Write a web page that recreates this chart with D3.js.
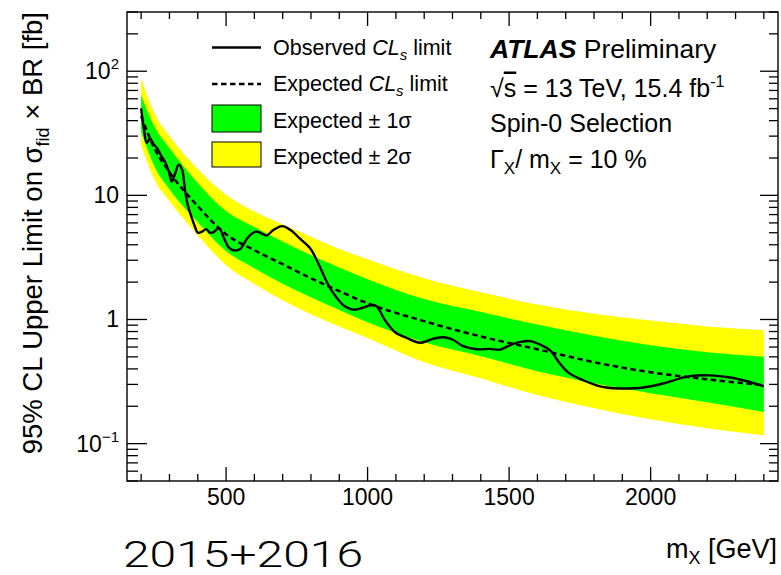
<!DOCTYPE html>
<html>
<head>
<meta charset="utf-8">
<script src="https://cdn.jsdelivr.net/npm/d3@7"></script>
<style>
  html, body { margin: 0; padding: 0; background: #fff; }
  svg text { font-family: "Liberation Sans", Arial, Helvetica, sans-serif; fill: #000; }
</style>
</head>
<body>
<svg id="chart" width="781" height="575"></svg>
<script>
// ---------------- data ----------------
const masses   = [200, 250, 300, 400, 500, 600, 700, 800, 900, 1000, 1200, 1400, 1600, 1800, 2000, 2200, 2400];
const expected = [43.5, 23.2, 15.4, 8.2, 4.87, 3.62, 2.79, 2.15, 1.69, 1.35, 0.97, 0.73, 0.576, 0.453, 0.376, 0.33, 0.295];
const plus1    = [64.4, 34.9, 24.1, 12.6, 7.47, 5.55, 4.24, 3.3, 2.62, 2.11, 1.46, 1.15, 0.91, 0.74, 0.62, 0.545, 0.50];
const minus1   = [32.6, 16.6, 11.2, 6.09, 3.56, 2.59, 1.94, 1.51, 1.19, 0.95, 0.656, 0.506, 0.383, 0.306, 0.255, 0.215, 0.18];
const plus2    = [87.9, 44.4, 30.1, 16.3, 10.1, 7.4, 5.82, 4.65, 3.69, 3.06, 2.15, 1.66, 1.32, 1.11, 0.98, 0.88, 0.82];
const minus2   = [25.5, 13.0, 9.0, 4.78, 2.74, 1.93, 1.43, 1.10, 0.88, 0.71, 0.453, 0.336, 0.246, 0.193, 0.157, 0.133, 0.117];

const obsMass = [200, 210, 220, 232, 243, 257, 270, 285, 297, 308, 320, 333, 345, 355, 365, 375, 390, 400, 415, 430, 443, 456, 475, 493, 510, 530, 550, 578, 605, 625, 643, 667, 698, 728, 760, 797, 826, 850, 867, 891, 915, 950, 985, 1014, 1032, 1061, 1097, 1138, 1185, 1232, 1270, 1300, 1338, 1385, 1432, 1468, 1503, 1540, 1574, 1608, 1644, 1680, 1712, 1762, 1809, 1850, 1892, 1940, 1974, 2045, 2104, 2139, 2210, 2281, 2340, 2400];
const obsLimit = [50.3, 34, 26.5, 28.8, 26, 23.9, 21, 18.5, 15.8, 12.9, 15, 17.7, 16, 11, 8.3, 7, 5.6, 5.0, 5.1, 5.35, 5.0, 5.05, 5.45, 4.5, 3.8, 3.6, 3.7, 4.6, 5.1, 4.95, 4.75, 5.25, 5.65, 5.25, 4.5, 3.75, 2.83, 2.14, 1.8, 1.5, 1.3, 1.2, 1.25, 1.31, 1.28, 0.99, 0.79, 0.71, 0.65, 0.70, 0.72, 0.69, 0.61, 0.576, 0.58, 0.572, 0.62, 0.66, 0.67, 0.63, 0.566, 0.44, 0.37, 0.324, 0.295, 0.282, 0.278, 0.279, 0.283, 0.305, 0.336, 0.35, 0.355, 0.341, 0.318, 0.29];

const xMajorTicks = [500, 1000, 1500, 2000];
const yMajorTicks = [0.1, 1, 10, 100];
const yTickLabels = [["10", "\u22121"], ["1", null], ["10", null], ["10", "2"]];

// ---------------- layout ----------------
const svg = d3.select("#chart");
const L = 127, R = 778, T = 12, B = 481;
const x = d3.scaleLinear().domain([150, 2450]).range([L, R]);
const y = d3.scaleLog().domain([0.05, 300]).range([B, T]);

svg.append("defs").append("clipPath").attr("id", "frame")
  .append("rect").attr("x", L).attr("y", T).attr("width", R - L).attr("height", B - T);

const plot = svg.append("g").attr("clip-path", "url(#frame)");

const band = (lo, hi) => d3.area()
  .x((d, i) => x(masses[i]))
  .y0((d, i) => y(lo[i]))
  .y1((d, i) => y(hi[i]))
  .curve(d3.curveMonotoneX)(masses);

plot.append("path").attr("d", band(minus2, plus2)).attr("fill", "#ffff00");
plot.append("path").attr("d", band(minus1, plus1)).attr("fill", "#00ff00");

plot.append("path")
  .attr("d", d3.line().x((d, i) => x(masses[i])).y((d, i) => y(expected[i])).curve(d3.curveMonotoneX)(masses))
  .attr("fill", "none").attr("stroke", "#000").attr("stroke-width", 2.5).attr("stroke-dasharray", "5.5,3.5");

plot.append("path")
  .attr("d", d3.line().x((d, i) => x(obsMass[i])).y((d, i) => y(obsLimit[i])).curve(d3.curveCatmullRom.alpha(0.5))(obsMass))
  .attr("fill", "none").attr("stroke", "#000").attr("stroke-width", 2.4);

// ---------------- frame & ticks ----------------
svg.append("rect").attr("x", L).attr("y", T).attr("width", R - L).attr("height", B - T)
  .attr("fill", "none").attr("stroke", "#000").attr("stroke-width", 1.4);

const axes = svg.append("g").attr("stroke", "#000").attr("stroke-width", 1.3);
const xMinor = d3.range(200, 2401, 100);
xMinor.forEach(v => {
  const major = xMajorTicks.includes(v);
  const len = major ? 14 : 7;
  axes.append("line").attr("x1", x(v)).attr("x2", x(v)).attr("y1", B).attr("y2", B - len);
  axes.append("line").attr("x1", x(v)).attr("x2", x(v)).attr("y1", T).attr("y2", T + len);
});
const yTicksAll = [];
[0.01, 0.1, 1, 10, 100].forEach(dec => {
  for (let k = 1; k <= 9; k++) {
    const v = dec * k;
    if (v >= 0.05 && v <= 300) yTicksAll.push({ v, major: k === 1 });
  }
});
yTicksAll.forEach(t => {
  const lenL = t.major ? 20 : 11;
  const lenR = t.major ? 18 : 9;
  axes.append("line").attr("x1", L).attr("x2", L + lenL).attr("y1", y(t.v)).attr("y2", y(t.v));
  axes.append("line").attr("x1", R).attr("x2", R - lenR).attr("y1", y(t.v)).attr("y2", y(t.v));
});

// x tick labels
xMajorTicks.forEach(v => {
  svg.append("text").attr("x", x(v)).attr("y", 505).attr("text-anchor", "middle")
    .attr("font-size", 23).text(v);
});
// y tick labels
yMajorTicks.forEach((v, i) => {
  const [base, sup] = yTickLabels[i];
  const t = svg.append("text").attr("x", 119).attr("y", y(v) + 8).attr("text-anchor", "end").attr("font-size", 23);
  t.append("tspan").text(base);
  if (sup) t.append("tspan").attr("font-size", 15).attr("dy", -10).text(sup);
});

// axis titles
const yt = svg.append("text").attr("transform", `translate(42,${T}) rotate(-90)`)
  .attr("text-anchor", "end").attr("font-size", 27.5);
yt.append("tspan").text("95% CL Upper Limit on \u03c3");
yt.append("tspan").attr("font-size", 18).attr("dy", 7).text("fid");
yt.append("tspan").attr("dy", -7).text(" \u00d7 BR [fb]");

const xt = svg.append("text").attr("x", 777).attr("y", 558).attr("text-anchor", "end").attr("font-size", 27);
xt.append("tspan").text("m");
xt.append("tspan").attr("font-size", 18).attr("dy", 6).text("X");
xt.append("tspan").attr("dy", -6).text(" [GeV]");

svg.append("text").attr("x", 123).attr("y", 567).attr("font-size", 36)
  .style("font-family", "Roboto, 'Liberation Sans', sans-serif").attr("font-weight", 300)
  .attr("textLength", 240).attr("lengthAdjust", "spacingAndGlyphs").text("2015+2016");

// ---------------- legend ----------------
const lg = svg.append("g");
const lx0 = 212, lx1 = 261, ltx = 273;
lg.append("line").attr("x1", lx0).attr("x2", lx1).attr("y1", 47.5).attr("y2", 47.5)
  .attr("stroke", "#000").attr("stroke-width", 2.4);
lg.append("line").attr("x1", lx0).attr("x2", lx1).attr("y1", 84).attr("y2", 84)
  .attr("stroke", "#000").attr("stroke-width", 2.5).attr("stroke-dasharray", "5.5,3.5");
lg.append("rect").attr("x", lx0).attr("y", 105).attr("width", lx1 - lx0).attr("height", 27)
  .attr("fill", "#00ff00").attr("stroke", "#000").attr("stroke-width", 1);
lg.append("rect").attr("x", lx0).attr("y", 142).attr("width", lx1 - lx0).attr("height", 25)
  .attr("fill", "#ffff00").attr("stroke", "#000").attr("stroke-width", 1);

function clsEntry(label, yb) {
  const t = lg.append("text").attr("x", ltx).attr("y", yb).attr("font-size", 21.5);
  t.append("tspan").text(label + " ");
  t.append("tspan").attr("font-style", "italic").text("CL");
  t.append("tspan").attr("font-style", "italic").attr("font-size", 15).attr("dy", 5).text("s");
  t.append("tspan").attr("dy", -5).text(" limit");
}
clsEntry("Observed", 55);
clsEntry("Expected", 91);
lg.append("text").attr("x", ltx).attr("y", 127.5).attr("font-size", 21.5).text("Expected \u00b1 1\u03c3");
lg.append("text").attr("x", ltx).attr("y", 164).attr("font-size", 21.5).text("Expected \u00b1 2\u03c3");

// ---------------- ATLAS labels ----------------
const ax = 490;
const a1 = svg.append("text").attr("x", ax).attr("y", 58.3).attr("font-size", 26.5);
a1.append("tspan").attr("font-weight", "bold").attr("font-style", "italic").text("ATLAS");
a1.append("tspan").text(" Preliminary");

const a2 = svg.append("text").attr("x", ax).attr("y", 96.5).attr("font-size", 25);
a2.append("tspan").text("\u221a");
a2.append("tspan").attr("text-decoration", "overline").text("s");
a2.append("tspan").text(" = 13 TeV, 15.4 fb");
a2.append("tspan").attr("font-size", 16).attr("dy", -10).text("-1");

svg.append("text").attr("x", ax).attr("y", 131.7).attr("font-size", 25).text("Spin-0 Selection");

const a4 = svg.append("text").attr("x", ax).attr("y", 168).attr("font-size", 25);
a4.append("tspan").text("\u0393");
a4.append("tspan").attr("font-size", 17).attr("dy", 6).text("X");
a4.append("tspan").attr("dy", -6).text("/ m");
a4.append("tspan").attr("font-size", 17).attr("dy", 6).text("X");
a4.append("tspan").attr("dy", -6).text(" = 10 %");
</script>
</body>
</html>
